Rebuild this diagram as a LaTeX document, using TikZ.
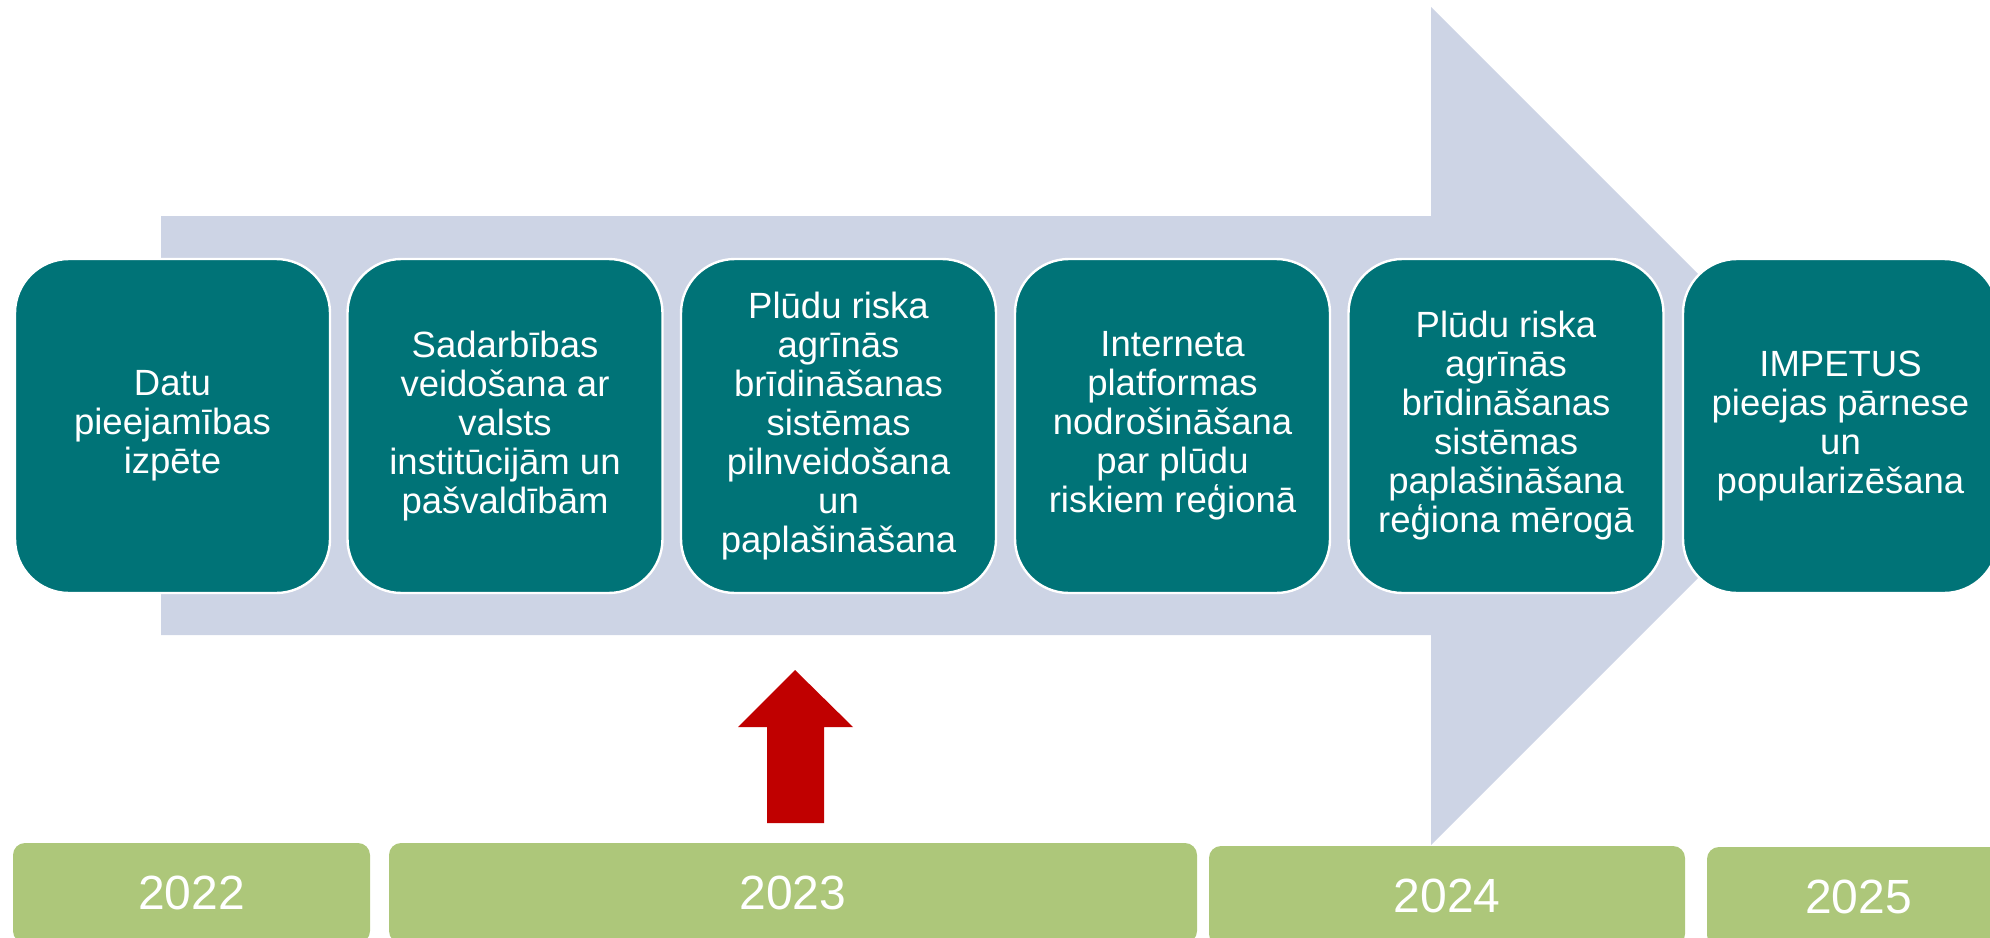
\documentclass[tikz,border=0pt]{standalone}
\usepackage{fontspec}
\setmainfont{Liberation Sans}
\definecolor{teal}{RGB}{0,115,119}
\definecolor{lav}{RGB}{205,212,229}
\definecolor{grn}{RGB}{173,199,122}
\definecolor{redarr}{RGB}{192,0,0}
\begin{document}
\begin{tikzpicture}[x=0.5pt,y=-0.5pt,
  stepbox/.style={draw=white,line width=1.2pt,fill=teal,rounded corners=27pt,
    minimum width=157.5pt,minimum height=167pt,inner sep=0pt,align=center,
    text=white,font=\fontsize{18.25pt}{19.5pt}\selectfont},
  yearbox/.style={fill=grn,rounded corners=6pt,minimum height=50pt,inner sep=0pt,
    text=white,font=\fontsize{24pt}{28pt}\selectfont}]
\useasboundingbox (0,0) rectangle (1990,937);
\clip (0,0) rectangle (1990,937);
% big background arrow
\fill[lav] (161,216) -- (1431,216) -- (1431,7) -- (1850,426) -- (1431,845) -- (1431,635) -- (161,635) -- cycle;
% step boxes
\node[stepbox] (b1) at (172.5,426) {Datu\\pieejamības\\izpēte};
\node[stepbox] (b2) at (505,426) {Sadarbības\\veidošana ar\\valsts\\institūcijām un\\pašvaldībām};
\node[stepbox] (b3) at (838.5,426) {Plūdu riska\\agrīnās\\brīdināšanas\\sistēmas\\pilnveidošana\\un\\paplašināšana};
\node[stepbox] (b4) at (1172.5,426) {Interneta\\platformas\\nodrošināšana\\par plūdu\\riskiem reģionā};
\node[stepbox] (b5) at (1506,426) {Plūdu riska\\agrīnās\\brīdināšanas\\sistēmas\\paplašināšana\\reģiona mērogā};
\node[stepbox] (b6) at (1840.5,426) {IMPETUS\\pieejas pārnese\\un\\popularizēšana};
% red arrow
\fill[redarr] (767,823) -- (767,727) -- (738,727) -- (795,670) -- (853,727) -- (824,727) -- (824,823) -- cycle;
% year bars
\node[yearbox,minimum width=178.5pt] (y22) at (191.5,893) {2022};
\node[yearbox,minimum width=404pt] (y23) at (793,893) {2023};
\node[yearbox,minimum width=238pt] (y24) at (1447,896) {2024};
\node[yearbox,minimum width=151.5pt] (y25) at (1858.5,897) {2025};
\end{tikzpicture}
\end{document}
